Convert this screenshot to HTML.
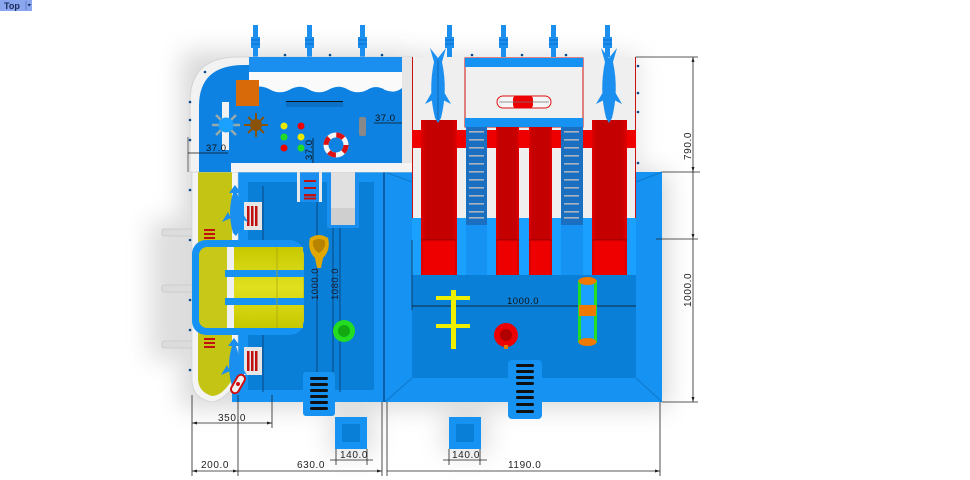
<!DOCTYPE html>
<html><head><meta charset="utf-8"><style>
html,body{margin:0;padding:0;background:#fff;}
svg{display:block;}
text{font-family:"Liberation Sans",sans-serif;}
</style></head><body>
<svg width="970" height="480" viewBox="0 0 970 480" xmlns="http://www.w3.org/2000/svg">
<defs>
<filter id="sh" x="-30%" y="-30%" width="160%" height="160%"><feGaussianBlur stdDeviation="12"/></filter>
<linearGradient id="rs" x1="0" x2="1" y1="0" y2="0"><stop offset="0" stop-color="#e00000"/><stop offset="0.15" stop-color="#c40000"/><stop offset="0.85" stop-color="#c40000"/><stop offset="1" stop-color="#e00000"/></linearGradient>
<linearGradient id="ys" x1="0" x2="0" y1="0" y2="1"><stop offset="0" stop-color="#c8c800"/><stop offset="0.5" stop-color="#e0e020"/><stop offset="1" stop-color="#c8c800"/></linearGradient>
</defs>
<rect width="970" height="480" fill="#fff"/>

<!-- shadows -->
<g filter="url(#sh)" opacity="0.28">
<rect x="182" y="52" width="232" height="356" fill="#777"/>
<rect x="385" y="172" width="283" height="236" fill="#777"/>
<rect x="410" y="54" width="228" height="120" fill="#999"/>
<rect x="150" y="220" width="50" height="140" fill="#888"/>
<rect x="330" y="412" width="44" height="42" fill="#888"/>
<rect x="444" y="412" width="44" height="42" fill="#888"/>
</g>

<!-- top label -->
<rect x="0" y="0" width="32" height="11" fill="#8aa6ee"/>
<text x="4" y="9" font-size="9" font-weight="bold" fill="#1a2a5a">Top</text>
<line x1="26" y1="1" x2="26" y2="10" stroke="#5570c0" stroke-width="0.7"/>
<path d="M27.5,4 L31,4 L29.2,6.5 Z" fill="#1a2a5a"/>

<!-- top pipes -->
<g fill="#1a8ff0">
<rect x="253" y="25" width="5" height="34"/><rect x="251" y="37" width="9" height="11"/>
<rect x="307" y="25" width="5" height="34"/><rect x="305" y="37" width="9" height="11"/>
<rect x="360" y="25" width="5" height="34"/><rect x="358" y="37" width="9" height="11"/>
<rect x="447" y="25" width="5" height="34"/><rect x="445" y="37" width="9" height="11"/>
<rect x="501" y="25" width="5" height="34"/><rect x="499" y="37" width="9" height="11"/>
<rect x="551" y="25" width="5" height="34"/><rect x="549" y="37" width="9" height="11"/>
<rect x="605" y="25" width="5" height="34"/><rect x="603" y="37" width="9" height="11"/>
</g>
<g stroke="#0a60b0" stroke-width="0.7">
<line x1="251" y1="40" x2="260" y2="40"/><line x1="251" y1="44" x2="260" y2="44"/>
<line x1="305" y1="40" x2="314" y2="40"/><line x1="305" y1="44" x2="314" y2="44"/>
<line x1="358" y1="40" x2="367" y2="40"/><line x1="358" y1="44" x2="367" y2="44"/>
<line x1="445" y1="40" x2="454" y2="40"/><line x1="445" y1="44" x2="454" y2="44"/>
<line x1="499" y1="40" x2="508" y2="40"/><line x1="499" y1="44" x2="508" y2="44"/>
<line x1="549" y1="40" x2="558" y2="40"/><line x1="549" y1="44" x2="558" y2="44"/>
<line x1="603" y1="40" x2="612" y2="40"/><line x1="603" y1="44" x2="612" y2="44"/>
</g>

<!-- left gray pipes -->
<g fill="#dcdcdc" stroke="#bbb" stroke-width="0.6">
<rect x="162" y="229" width="32" height="7" rx="2"/>
<rect x="162" y="285" width="32" height="7" rx="2"/>
<rect x="162" y="341" width="32" height="7" rx="2"/>
</g>

<!-- RIGHT POOL -->
<rect x="385" y="172" width="277" height="230" fill="#1592f2"/>
<rect x="412" y="182" width="224" height="196" fill="#0a7fd8"/>
<path d="M385,172 L412,182 M662,172 L636,182 M385,402 L412,378 M662,402 L636,378" stroke="#0b78cc" stroke-width="1"/>

<!-- LEFT POOL -->
<rect x="232" y="170" width="153" height="232" fill="#1592f2"/>
<rect x="248" y="182" width="126" height="208" fill="#0a7fd8"/>
<line x1="384" y1="172" x2="384" y2="402" stroke="#0a5fa8" stroke-width="2"/>
<g stroke="#083a6a" stroke-width="0.8">
<line x1="263" y1="186" x2="263" y2="392"/>
<line x1="317" y1="190" x2="317" y2="400"/>
<line x1="333" y1="205" x2="333" y2="400"/>
<line x1="340" y1="205" x2="340" y2="392"/>
</g>
<text transform="translate(318,300) rotate(-90)" font-size="9.5" fill="#1a1a2a" letter-spacing="0.5">1000.0</text>
<text transform="translate(338,300) rotate(-90)" font-size="9.5" fill="#1a1a2a" letter-spacing="0.5">1080.0</text>

<!-- ladder top of left pool -->
<rect x="297" y="172" width="25" height="30" fill="#1a8ff0"/>
<rect x="297" y="172" width="3" height="30" fill="#e8e8e8"/>
<rect x="319" y="172" width="3" height="30" fill="#e8e8e8"/>
<g fill="#c01010"><rect x="304" y="180" width="12" height="2"/><rect x="304" y="187" width="12" height="2"/><rect x="304" y="194" width="12" height="2.5"/><rect x="304" y="197.5" width="12" height="2"/></g>
<!-- gray slide -->
<rect x="327" y="172" width="32" height="56" fill="#1a8ff0"/>
<rect x="331" y="172" width="24" height="36" fill="#e0e0e0"/>
<rect x="331" y="208" width="24" height="17" fill="#cfcfcf"/>

<!-- yellow lane left -->
<path d="M192,172 L238,172 L238,380 Q225,400 212,402 Q192,398 192,380 Z" fill="#f4f4f4" stroke="#ccc" stroke-width="0.6"/>
<path d="M198,172 L232,172 L232,380 Q222,396 212,396 Q198,392 198,378 Z" fill="#c4c414"/>
<g fill="#c01010">
<rect x="204" y="229" width="11" height="2"/><rect x="204" y="233" width="11" height="2"/><rect x="204" y="237" width="11" height="2"/>
<rect x="204" y="338" width="11" height="2"/><rect x="204" y="342" width="11" height="2"/><rect x="204" y="346" width="11" height="2"/>
</g>

<!-- blue frame slide -->
<rect x="192" y="240" width="112" height="95" rx="14" fill="#1592f2"/>
<rect x="199" y="247" width="105" height="81" rx="8" fill="#c8c818"/>
<rect x="227" y="247" width="7" height="81" fill="#f0f0f0"/>
<rect x="234" y="247" width="69" height="81" fill="url(#ys)"/>
<rect x="225" y="270" width="79" height="7" fill="#1592f2"/>
<rect x="225" y="298" width="79" height="7" fill="#1592f2"/>
<line x1="277" y1="247" x2="277" y2="328" stroke="#a8a810" stroke-width="0.8"/>

<!-- small ladders near dolphins -->
<rect x="244" y="202" width="18" height="28" fill="#e6e6e6"/>
<g fill="#c01010"><rect x="247" y="206" width="2.5" height="20"/><rect x="251" y="206" width="2.5" height="20"/><rect x="255" y="206" width="2.5" height="20"/></g>
<rect x="244" y="347" width="18" height="28" fill="#e6e6e6"/>
<g fill="#c01010"><rect x="247" y="351" width="2.5" height="20"/><rect x="251" y="351" width="2.5" height="20"/><rect x="255" y="351" width="2.5" height="20"/></g>

<!-- dolphins left -->
<g fill="#1a8ff0">
<path d="M235,185 L241,193 L237,193 Q244,212 238,233 L236,236 L233,233 Q227,212 233,193 L229,193 Z"/>
<path d="M228,212 L222,222 L231,218 Z M242,212 L248,222 L239,218 Z"/>
<path d="M234,338 L240,346 L236,346 Q243,365 237,386 L235,390 L232,386 Q226,365 232,346 L228,346 Z"/>
<path d="M227,365 L221,375 L230,371 Z M241,365 L247,375 L238,371 Z"/>
</g>
<g transform="translate(238,384) rotate(-60)"><rect x="-10" y="-4" width="20" height="8" rx="4" fill="#f2f2f2" stroke="#d01010" stroke-width="2"/><circle cx="0" cy="0" r="2" fill="#d01010"/></g>

<!-- yellow item -->
<path d="M310,238 Q319,232 328,238 Q331,250 323,258 L321,268 L317,268 L315,258 Q307,250 310,238 Z" fill="#e0a800"/>
<path d="M313,241 Q319,237 325,241 Q326,249 319,253 Q312,249 313,241 Z" fill="#b88400"/>
<!-- green ring -->
<circle cx="344" cy="331" r="11" fill="#22dd22"/>
<circle cx="344" cy="331" r="6" fill="#11a811"/>

<!-- left bottom ladder -->
<rect x="303" y="372" width="32" height="44" rx="3" fill="#1592f2"/>
<g fill="#111"><rect x="310" y="377" width="18" height="3" rx="1.5"/><rect x="310" y="383" width="18" height="3" rx="1.5"/><rect x="310" y="389" width="18" height="3" rx="1.5"/><rect x="310" y="395" width="18" height="3" rx="1.5"/><rect x="310" y="401" width="18" height="3" rx="1.5"/><rect x="310" y="407" width="18" height="3" rx="1.5"/></g>

<!-- LEFT DECK -->
<path d="M190,172 L190,102 Q190,57 238,57 L412,57 L412,172 Z" fill="#f2f2f2" stroke="#cfcfcf" stroke-width="0.8"/>
<path d="M199,172 L199,106 Q199,65 244,65 L402,65 L402,163 L231,163 L231,172 Z" fill="#0d82e2"/>
<rect x="249" y="57" width="153" height="15" fill="#1a8ff0"/>
<path d="M249,72 L402,72 L402,88 Q395,94 385,90 Q376,84 367,90 Q357,95 347,89 Q338,84 328,90 Q318,95 308,89 Q299,84 289,90 Q279,95 269,89 Q259,84 249,89 Z" fill="#fafafa"/>
<rect x="402" y="57" width="10" height="115" fill="#e6e6e6"/>
<rect x="231" y="163" width="181" height="9" fill="#f4f4f4"/>
<rect x="236" y="80" width="23" height="26" fill="#d86a0a"/>
<rect x="286" y="101" width="57" height="6" fill="#0a70c8"/>
<line x1="286" y1="101.5" x2="343" y2="101.5" stroke="#111" stroke-width="1"/>
<!-- wheel cross -->
<g stroke="#9aa" stroke-width="2.5">
<line x1="212" y1="125" x2="240" y2="125"/><line x1="216" y1="115" x2="236" y2="135"/><line x1="236" y1="115" x2="216" y2="135"/>
</g>
<rect x="222" y="102" width="7" height="48" fill="#f2f2f2"/>
<circle cx="226" cy="125" r="7.5" fill="#1aa0ff"/>
<!-- brown wheel -->
<g stroke="#8a5208" stroke-width="2">
<line x1="256" y1="113" x2="256" y2="137"/><line x1="244" y1="125" x2="268" y2="125"/><line x1="248" y1="117" x2="264" y2="133"/><line x1="264" y1="117" x2="248" y2="133"/>
</g>
<circle cx="256" cy="125" r="6" fill="#8a5208"/>
<!-- dots -->
<circle cx="284" cy="126" r="3.5" fill="#e8e800"/><circle cx="301" cy="126" r="3.5" fill="#ee0000"/>
<circle cx="284" cy="137" r="3.5" fill="#22dd22"/><circle cx="301" cy="137" r="3.5" fill="#e8e800"/>
<circle cx="284" cy="148" r="3.5" fill="#ee0000"/><circle cx="301" cy="148" r="3.5" fill="#22dd22"/>
<!-- life ring -->
<circle cx="336" cy="145" r="10" fill="none" stroke="#f4f4f4" stroke-width="5"/>
<circle cx="336" cy="145" r="10" fill="none" stroke="#dd1111" stroke-width="5" stroke-dasharray="7.85 7.85"/>
<rect x="359" y="117" width="7" height="19" rx="2" fill="#888"/>
<!-- dims in deck -->
<line x1="374" y1="123" x2="402" y2="123" stroke="#111" stroke-width="0.8"/>
<text x="375" y="121" font-size="9.5" fill="#111" letter-spacing="0.5">37.0</text>
<line x1="188" y1="153" x2="228" y2="153" stroke="#111" stroke-width="0.8"/>
<line x1="188" y1="137" x2="188" y2="172" stroke="#111" stroke-width="0.6"/>
<text x="206" y="151" font-size="9.5" fill="#111" letter-spacing="0.5">37.0</text>
<line x1="313" y1="138" x2="313" y2="163" stroke="#111" stroke-width="0.8"/>
<text transform="translate(312,160) rotate(-90)" font-size="9.5" fill="#111" letter-spacing="0.5">37.0</text>
<g fill="#0a4a8a">
<circle cx="190" cy="102" r="1.3"/><circle cx="190" cy="120" r="1.3"/><circle cx="190" cy="140" r="1.3"/><circle cx="190" cy="190" r="1.3"/><circle cx="190" cy="240" r="1.3"/><circle cx="190" cy="300" r="1.3"/><circle cx="190" cy="330" r="1.3"/><circle cx="190" cy="370" r="1.3"/>
<circle cx="205" cy="72" r="1.3"/><circle cx="285" cy="55" r="1.3"/><circle cx="330" cy="55" r="1.3"/><circle cx="382" cy="55" r="1.3"/>
</g>

<!-- TOWER -->
<rect x="412" y="57" width="224" height="161" fill="#efefef"/>
<rect x="412" y="218" width="224" height="57" fill="#1592f2"/>
<line x1="412.5" y1="57" x2="412.5" y2="218" stroke="#cc1010" stroke-width="1"/>
<line x1="635.5" y1="57" x2="635.5" y2="218" stroke="#cc1010" stroke-width="1"/>
<rect x="465" y="58" width="118" height="69" fill="#f0f0f0" stroke="#cc1010" stroke-width="1"/>
<rect x="465" y="58" width="118" height="9" fill="#1592f2"/>
<rect x="465" y="118" width="118" height="9" fill="#1592f2"/>
<rect x="497" y="96" width="54" height="12" rx="6" fill="#f6f6f6" stroke="#dd1111" stroke-width="1"/>
<rect x="513" y="96" width="20" height="12" rx="3" fill="#ee0000"/>
<line x1="499" y1="102" x2="549" y2="102" stroke="#777" stroke-width="0.8"/>
<rect x="412" y="130" width="224" height="18" fill="#ee0000"/>
<rect x="421" y="120" width="36" height="155" fill="url(#rs)"/>
<rect x="496" y="127" width="23" height="148" fill="url(#rs)"/>
<rect x="529" y="127" width="23" height="148" fill="url(#rs)"/>
<rect x="592" y="120" width="35" height="155" fill="url(#rs)"/>
<g fill="#ee0000">
<rect x="423" y="240" width="32" height="35"/><rect x="498" y="240" width="19" height="35"/><rect x="531" y="240" width="19" height="35"/><rect x="594" y="240" width="31" height="35"/>
</g>
<g stroke="#8a0000" stroke-width="0.8"><line x1="421" y1="240" x2="457" y2="240"/><line x1="496" y1="240" x2="519" y2="240"/><line x1="529" y1="240" x2="552" y2="240"/><line x1="592" y1="240" x2="627" y2="240"/></g>
<g fill="#1aa0ff">
<rect x="412" y="218" width="9" height="57"/><rect x="457" y="218" width="9" height="57"/><rect x="487" y="218" width="9" height="57"/><rect x="519" y="218" width="10" height="57"/><rect x="552" y="218" width="9" height="57"/><rect x="583" y="218" width="9" height="57"/><rect x="627" y="218" width="9" height="57"/>
</g>
<rect x="466" y="127" width="21" height="98" fill="#1a6fc0"/>
<rect x="561" y="127" width="22" height="98" fill="#1a6fc0"/>
<g fill="#aab4c0">
<rect x="469" y="131" width="15" height="1.6"/><rect x="469" y="139" width="15" height="1.6"/><rect x="469" y="147" width="15" height="1.6"/><rect x="469" y="155" width="15" height="1.6"/><rect x="469" y="163" width="15" height="1.6"/><rect x="469" y="171" width="15" height="1.6"/><rect x="469" y="179" width="15" height="1.6"/><rect x="469" y="187" width="15" height="1.6"/><rect x="469" y="195" width="15" height="1.6"/><rect x="469" y="203" width="15" height="1.6"/><rect x="469" y="211" width="15" height="1.6"/><rect x="469" y="217" width="15" height="1.6"/>
<rect x="564" y="131" width="15" height="1.6"/><rect x="564" y="139" width="15" height="1.6"/><rect x="564" y="147" width="15" height="1.6"/><rect x="564" y="155" width="15" height="1.6"/><rect x="564" y="163" width="15" height="1.6"/><rect x="564" y="171" width="15" height="1.6"/><rect x="564" y="179" width="15" height="1.6"/><rect x="564" y="187" width="15" height="1.6"/><rect x="564" y="195" width="15" height="1.6"/><rect x="564" y="203" width="15" height="1.6"/><rect x="564" y="211" width="15" height="1.6"/><rect x="564" y="217" width="15" height="1.6"/>
</g>
<g fill="#1a8ff0">
<path d="M430,48 L438,58 L446,48 L442,62 Q448,90 441,118 L438,123 L435,118 Q428,90 434,62 Z"/>
<path d="M432,92 L425,104 L435,99 Z M444,92 L451,104 L441,99 Z"/>
<path d="M601,48 L609,58 L617,48 L613,62 Q619,90 612,118 L609,123 L606,118 Q599,90 605,62 Z"/>
<path d="M603,92 L596,104 L606,99 Z M615,92 L622,104 L612,99 Z"/>
</g>
<line x1="438" y1="60" x2="438" y2="120" stroke="#0a4a8a" stroke-width="0.6"/>
<g fill="#0a4a8a"><circle cx="638" cy="66" r="1.3"/><circle cx="638" cy="93" r="1.3"/><circle cx="638" cy="112" r="1.3"/><circle cx="638" cy="163" r="1.3"/><circle cx="472" cy="55" r="1.3"/><circle cx="522" cy="55" r="1.3"/><circle cx="566" cy="55" r="1.3"/></g>

<!-- right pool items -->
<line x1="412" y1="306" x2="636" y2="306" stroke="#111" stroke-width="0.8"/>
<line x1="412" y1="240" x2="412" y2="310" stroke="#111" stroke-width="0.6"/>
<text x="507" y="304" font-size="9.5" fill="#111" letter-spacing="0.5">1000.0</text>
<g fill="#eeee00">
<rect x="451" y="290" width="5" height="59"/>
<rect x="436" y="296" width="34" height="4"/>
<rect x="436" y="324" width="34" height="4"/>
</g>
<circle cx="506" cy="335" r="12" fill="#ee0000"/>
<circle cx="506" cy="335" r="6" fill="#b00000"/>
<rect x="504" y="345" width="4" height="4" fill="#e08000"/>
<rect x="578" y="280" width="19" height="63" fill="#1aa0ff"/>
<rect x="578" y="280" width="3" height="63" fill="#22dd22"/>
<rect x="594" y="280" width="3" height="63" fill="#22dd22"/>
<rect x="579" y="305" width="17" height="11" fill="#f07a00"/>
<ellipse cx="587.5" cy="281" rx="9" ry="4" fill="#f07a00"/>
<ellipse cx="587.5" cy="342" rx="9" ry="4" fill="#f07a00"/>

<!-- right ladder -->
<rect x="508" y="360" width="34" height="59" rx="4" fill="#1592f2"/>
<g fill="#111"><rect x="516" y="364" width="18" height="3" rx="1.5"/><rect x="516" y="370" width="18" height="3" rx="1.5"/><rect x="516" y="376" width="18" height="3" rx="1.5"/><rect x="516" y="382" width="18" height="3" rx="1.5"/><rect x="516" y="390" width="18" height="3" rx="1.5"/><rect x="516" y="396" width="18" height="3" rx="1.5"/><rect x="516" y="403" width="18" height="3" rx="1.5"/><rect x="516" y="410" width="18" height="3" rx="1.5"/></g>

<!-- small boxes -->
<rect x="335" y="417" width="32" height="32" fill="#1592f2"/>
<rect x="342" y="424" width="18" height="18" fill="#0a7fd8"/>
<rect x="449" y="417" width="32" height="32" fill="#1592f2"/>
<rect x="456" y="424" width="18" height="18" fill="#0a7fd8"/>

<!-- DIMENSIONS -->
<g stroke="#222" stroke-width="0.8" fill="none">
<line x1="693" y1="57" x2="693" y2="402"/>
<line x1="636" y1="57" x2="698" y2="57"/>
<line x1="662" y1="172" x2="700" y2="172"/>
<line x1="656" y1="239" x2="698" y2="239"/>
<line x1="662" y1="402" x2="698" y2="402"/>
<line x1="192" y1="395" x2="192" y2="476"/>
<line x1="238" y1="395" x2="238" y2="476"/>
<line x1="272" y1="395" x2="272" y2="428"/>
<line x1="382" y1="402" x2="382" y2="476"/>
<line x1="387" y1="402" x2="387" y2="476"/>
<line x1="660" y1="402" x2="660" y2="476"/>
<line x1="192" y1="423" x2="272" y2="423"/>
<line x1="192" y1="471" x2="382" y2="471"/>
<line x1="387" y1="471" x2="660" y2="471"/>
<line x1="330" y1="460" x2="373" y2="460"/>
<line x1="336" y1="449" x2="336" y2="465"/>
<line x1="367" y1="449" x2="367" y2="465"/>
<line x1="443" y1="460" x2="487" y2="460"/>
<line x1="449" y1="449" x2="449" y2="465"/>
<line x1="480" y1="449" x2="480" y2="465"/>
</g>
<g fill="#222">
<path d="M693,57 L691.5,62 L694.5,62 Z"/><path d="M693,172 L691.5,167 L694.5,167 Z"/><path d="M693,239 L691.5,234 L694.5,234 Z"/><path d="M693,402 L691.5,397 L694.5,397 Z"/>
<path d="M192,423 L197,421.5 L197,424.5 Z"/><path d="M272,423 L267,421.5 L267,424.5 Z"/>
<path d="M192,471 L197,469.5 L197,472.5 Z"/><path d="M238,471 L233,469.5 L233,472.5 Z"/><path d="M382,471 L377,469.5 L377,472.5 Z"/>
<path d="M660,471 L655,469.5 L655,472.5 Z"/>
</g>
<g font-size="10" fill="#222" letter-spacing="0.6">
<text transform="translate(691,160) rotate(-90)">790.0</text>
<text transform="translate(691,307) rotate(-90)">1000.0</text>
<text x="218" y="421">350.0</text>
<text x="201" y="468">200.0</text>
<text x="297" y="468">630.0</text>
<text x="508" y="468">1190.0</text>
<text x="340" y="458">140.0</text>
<text x="452" y="458">140.0</text>
</g>
</svg>
</body></html>
